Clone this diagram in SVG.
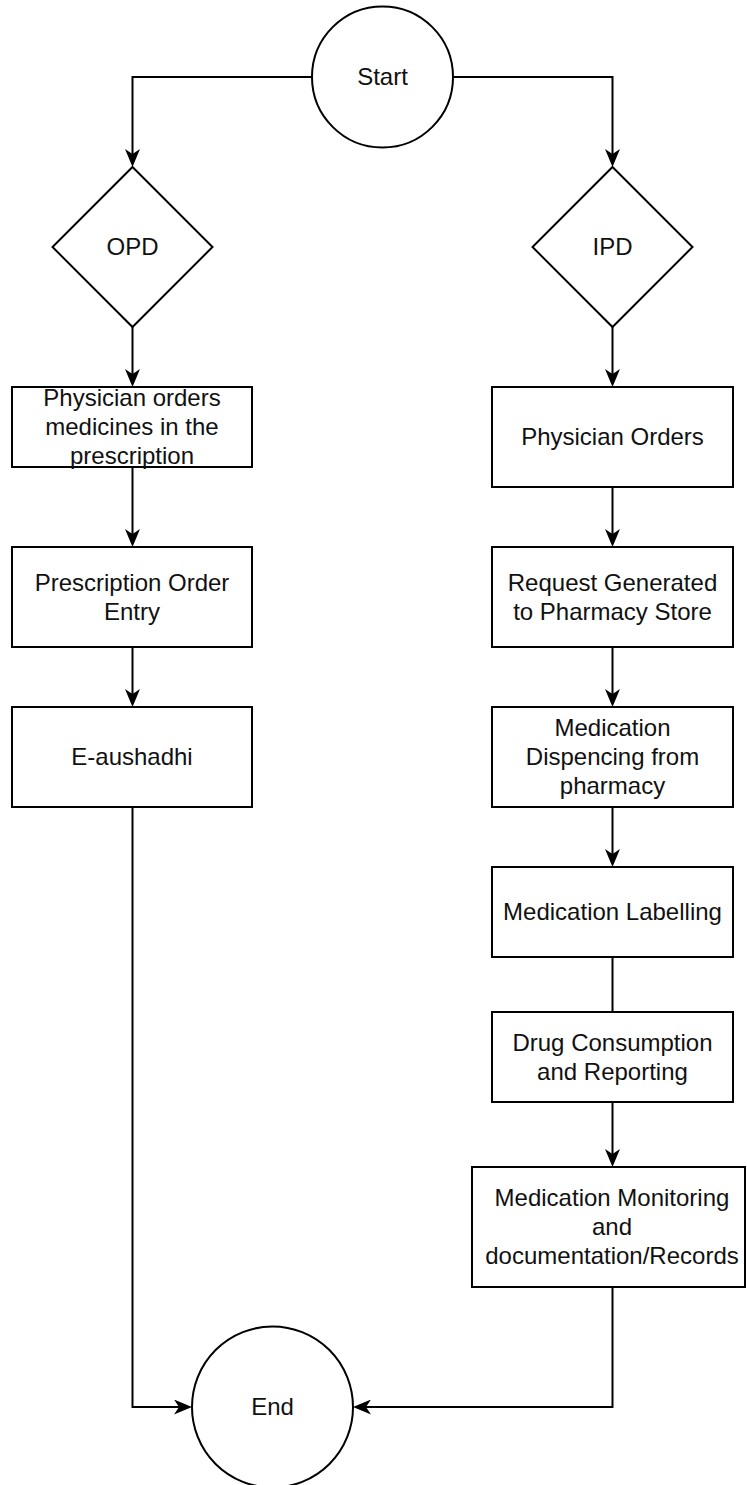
<svg xmlns="http://www.w3.org/2000/svg" width="747" height="1485" viewBox="0 0 747 1485">
  <style>
    .shape { fill: #ffffff; stroke: #000000; stroke-width: 2; }
    .edge { fill: none; stroke: #000000; stroke-width: 2; }
    .label { font-family: "Liberation Sans", Arial, Helvetica, sans-serif; font-size: 24px; fill: #111111; text-anchor: middle; }
  </style>
  <defs>
    <!-- classic notched arrowhead; the line stops at the notch, the tip lands 13px further on -->
    <marker id="arrow" markerUnits="userSpaceOnUse" viewBox="0 0 18 15" refX="5" refY="7.5" markerWidth="18" markerHeight="15" orient="auto">
      <path d="M0,0 L18,7.5 L0,15 L5,7.5 Z" fill="#000000"/>
    </marker>
  </defs>
  <rect width="747" height="1485" fill="#ffffff"/>

  <!-- connectors -->
  <g id="connectors">
    <path class="edge" d="M312,77 H132.5 V154" marker-end="url(#arrow)"/>
    <path class="edge" d="M453,77 H612.5 V154" marker-end="url(#arrow)"/>
    <path class="edge" d="M132.5,327 V374" marker-end="url(#arrow)"/>
    <path class="edge" d="M132.5,467 V534" marker-end="url(#arrow)"/>
    <path class="edge" d="M132.5,647 V694" marker-end="url(#arrow)"/>
    <path class="edge" d="M132.5,807 V1407 H179" marker-end="url(#arrow)"/>
    <path class="edge" d="M612.5,327 V374" marker-end="url(#arrow)"/>
    <path class="edge" d="M612.5,487 V534" marker-end="url(#arrow)"/>
    <path class="edge" d="M612.5,647 V694" marker-end="url(#arrow)"/>
    <path class="edge" d="M612.5,807 V854" marker-end="url(#arrow)"/>
    <path class="edge" d="M612.5,957 V1012"/>
    <path class="edge" d="M612.5,1102 V1154" marker-end="url(#arrow)"/>
    <path class="edge" d="M612.5,1287 V1407 H366" marker-end="url(#arrow)"/>
  </g>

  <!-- start / end terminals -->
  <g id="start">
    <circle class="shape" cx="382.5" cy="77" r="70.5"/>
    <text class="label" x="382.5" y="85">Start</text>
  </g>
  <g id="end">
    <circle class="shape" cx="272.5" cy="1407" r="80.5"/>
    <text class="label" x="272.5" y="1415">End</text>
  </g>

  <!-- decisions -->
  <g id="opd">
    <polygon class="shape" points="132.5,167 212.5,247 132.5,327 52.5,247"/>
    <text class="label" x="132.5" y="255">OPD</text>
  </g>
  <g id="ipd">
    <polygon class="shape" points="612.5,167 692.5,247 612.5,327 532.5,247"/>
    <text class="label" x="612.5" y="255">IPD</text>
  </g>

  <!-- OPD branch -->
  <g id="opd-physician-orders">
    <rect class="shape" x="12" y="387" width="240" height="80"/>
    <text class="label" x="132" y="406">Physician orders</text>
    <text class="label" x="132" y="435">medicines in the</text>
    <text class="label" x="132" y="464">prescription</text>
  </g>
  <g id="prescription-order-entry">
    <rect class="shape" x="12" y="547" width="240" height="100"/>
    <text class="label" x="132" y="591">Prescription Order</text>
    <text class="label" x="132" y="620">Entry</text>
  </g>
  <g id="e-aushadhi">
    <rect class="shape" x="12" y="707" width="240" height="100"/>
    <text class="label" x="132" y="765">E-aushadhi</text>
  </g>

  <!-- IPD branch -->
  <g id="ipd-physician-orders">
    <rect class="shape" x="492" y="387" width="241" height="100"/>
    <text class="label" x="612.5" y="445">Physician Orders</text>
  </g>
  <g id="request-generated">
    <rect class="shape" x="492" y="547" width="241" height="100"/>
    <text class="label" x="612.5" y="591">Request Generated</text>
    <text class="label" x="612.5" y="620">to Pharmacy Store</text>
  </g>
  <g id="medication-dispencing">
    <rect class="shape" x="492" y="707" width="241" height="100"/>
    <text class="label" x="612.5" y="736">Medication</text>
    <text class="label" x="612.5" y="765">Dispencing from</text>
    <text class="label" x="612.5" y="794">pharmacy</text>
  </g>
  <g id="medication-labelling">
    <rect class="shape" x="492" y="867" width="241" height="90"/>
    <text class="label" x="612.5" y="920">Medication Labelling</text>
  </g>
  <g id="drug-consumption">
    <rect class="shape" x="492" y="1012" width="241" height="90"/>
    <text class="label" x="612.5" y="1051">Drug Consumption</text>
    <text class="label" x="612.5" y="1080">and Reporting</text>
  </g>
  <g id="medication-monitoring">
    <rect class="shape" x="472" y="1167" width="273" height="120"/>
    <text class="label" x="612" y="1206">Medication Monitoring</text>
    <text class="label" x="612" y="1235">and</text>
    <text class="label" x="612" y="1264">documentation/Records</text>
  </g>
</svg>
